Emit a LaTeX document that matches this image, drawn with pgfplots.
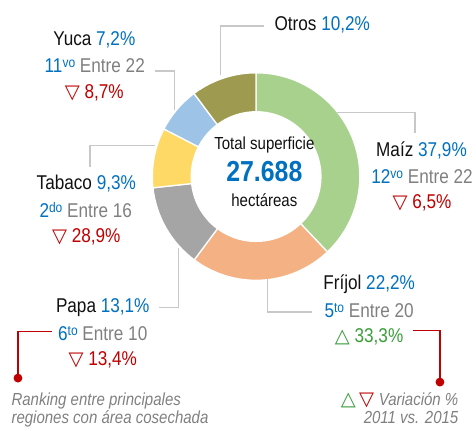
\documentclass[border=0pt]{standalone}
\usepackage{pgfplots}
\pgfplotsset{compat=1.18}
\usepackage{pgfplotstable}
\usepackage{fontspec}
\setmainfont{Liberation Sans}[FakeStretch=0.86]
\newfontfamily\sym{DejaVu Sans}
\definecolor{cMaiz}{HTML}{A9D18E}
\definecolor{cFrijol}{HTML}{F4B183}
\definecolor{cPapa}{HTML}{A5A5A5}
\definecolor{cTabaco}{HTML}{FFD966}
\definecolor{cYuca}{HTML}{9DC3E6}
\definecolor{cOtros}{HTML}{9E9B50}
\definecolor{tblue}{HTML}{0070C0}
\definecolor{tgray}{HTML}{808080}
\definecolor{tred}{HTML}{C00000}
\definecolor{tgreen}{HTML}{3A9E3A}
\definecolor{lgray}{HTML}{C8C8C8}
\definecolor{tblack}{HTML}{111111}

\pgfplotstableread{
crop share col
Maiz 37.9 cMaiz
Frijol 22.2 cFrijol
Papa 13.1 cPapa
Tabaco 9.3 cTabaco
Yuca 7.2 cYuca
Otros 10.2 cOtros
}\shares

\newcommand\sq[1]{\raisebox{5pt}{\fontsize{14}{14}\selectfont #1}}
\newcommand\dn{{\sym\fontsize{19.5}{20}\selectfont ▽}}
\newcommand\up{{\sym\fontsize{19.5}{20}\selectfont △}}
\newcommand\lab[2]{{\color{tblack}#1} {\color{tblue}#2}}
\newcommand\rk[3]{{\color{tblue}#1\sq{#2}} {\color{tgray}Entre #3}}
\newcommand\vdn[1]{{\color{tred}\dn\ #1}}
\newcommand\vup[1]{{\color{tgreen}\up\ #1}}

\begin{document}
\begin{tikzpicture}[font=\fontsize{20}{24}\selectfont]
\begin{axis}[x=1pt,y=1pt,xmin=0,xmax=476,ymin=0,ymax=428,hide axis,clip=false,enlargelimits=false,
  every node/.append style={inner sep=0pt}]
\path (axis cs:0,0) rectangle (axis cs:476,428);
\def\cx{256.7}\def\cy{251}\def\Ro{104}\def\Ri{65}
\xdef\angA{90}
\pgfplotsinvokeforeach{0,...,5}{
  \pgfplotstablegetelem{#1}{share}\of{\shares}\let\s\pgfplotsretval
  \pgfplotstablegetelem{#1}{col}\of{\shares}\let\mycol\pgfplotsretval
  \pgfmathsetmacro\angB{\angA-360*\s/99.9}
  \edef\temp{\noexpand\fill[\mycol,draw=white,line width=1.3pt] (axis cs:\cx,\cy) ++(\angA:\Ro pt) arc[start angle=\angA,end angle=\angB,radius=\Ro pt] -- ++(\angB:-39pt) arc[start angle=\angB,end angle=\angA,radius=\Ri pt] -- cycle;}
  \temp
  \xdef\angA{\angB}
}
% leader lines
\addplot[lgray, line width=1.5pt, no marks] coordinates {(265,402) (221,402) (221,353)};
\addplot[lgray, line width=1.5pt, no marks] coordinates {(155,357) (175,357) (175,318)};
\addplot[lgray, line width=1.5pt, no marks] coordinates {(155,282) (90,282) (90,261)};
\addplot[lgray, line width=1.5pt, no marks] coordinates {(159,120) (179,120) (179,179)};
\addplot[lgray, line width=1.5pt, no marks] coordinates {(268,148) (268,115) (313,115)};
\addplot[lgray, line width=1.5pt, no marks] coordinates {(338,315) (416,315) (416,295)};
% red annotation lines
\addplot[tred, line width=1.2pt, mark=*, mark size=3.8pt, mark indices={3}, mark options={fill=tred,draw=tred}] coordinates {(414,97) (441,97) (441,45)};
\addplot[tred, line width=1.2pt, mark=*, mark size=3.8pt, mark indices={3}, mark options={fill=tred,draw=tred}] coordinates {(52,96) (18,96) (18,49)};
% center
\node[anchor=base] at (axis cs:265,278) {\fontsize{17.5}{20}\selectfont\color{tblack}Total superficie};
\node[anchor=base] at (axis cs:265,246.3) {\fontsize{29}{32}\selectfont\bfseries\color{tblue}27.688};
\node[anchor=base] at (axis cs:265,221) {\fontsize{17.5}{20}\selectfont\color{tblack}hectáreas};
% Otros
\node[anchor=base] at (axis cs:323,397) {\lab{Otros}{10,2\%}};
% Yuca
\node[anchor=base] at (axis cs:94.5,382.3) {\lab{Yuca}{7,2\%}};
\node[anchor=base] at (axis cs:95,355) {\rk{11}{vo}{22}};
\node[anchor=base] at (axis cs:94.5,329) {\vdn{8,7\%}};
% Tabaco
\node[anchor=base] at (axis cs:86.5,238) {\lab{Tabaco}{9,3\%}};
\node[anchor=base] at (axis cs:86,210) {\rk{2}{do}{16}};
\node[anchor=base] at (axis cs:86.5,185) {\vdn{28,9\%}};
% Papa
\node[anchor=base] at (axis cs:103,115) {\lab{Papa}{13,1\%}};
\node[anchor=base] at (axis cs:103,86.3) {\rk{6}{to}{10}};
\node[anchor=base] at (axis cs:103,61.3) {\vdn{13,4\%}};
% Maiz
\node[anchor=base] at (axis cs:422.5,271) {\lab{Maíz}{37,9\%}};
\node[anchor=base] at (axis cs:423,244) {\rk{12}{vo}{22}};
\node[anchor=base] at (axis cs:423,219) {\vdn{6,5\%}};
% Frijol
\node[anchor=base] at (axis cs:370,138) {\lab{Fríjol}{22,2\%}};
\node[anchor=base] at (axis cs:370,110) {\rk{5}{to}{20}};
\node[anchor=base] at (axis cs:370,85) {\vup{33,3\%}};
% notes
\node[anchor=base west, align=left] at (axis cs:8,21.3) {\fontsize{17.5}{18}\selectfont\itshape\color{tgray}Ranking entre principales};
\node[anchor=base west] at (axis cs:8,3) {\fontsize{17.5}{18}\selectfont\itshape\color{tgray}regiones con área cosechada};
\node[anchor=base east] at (axis cs:463,21.3) {{\color{tgreen}\up}\,{\color{tred}\dn}\ {\fontsize{17.5}{18}\selectfont\itshape\color{tgray}Variación \%}};
\node[anchor=base east] at (axis cs:463,3) {\fontsize{17.5}{18}\selectfont\itshape\color{tgray}2011 vs. 2015};
\end{axis}
\end{tikzpicture}
\end{document}
